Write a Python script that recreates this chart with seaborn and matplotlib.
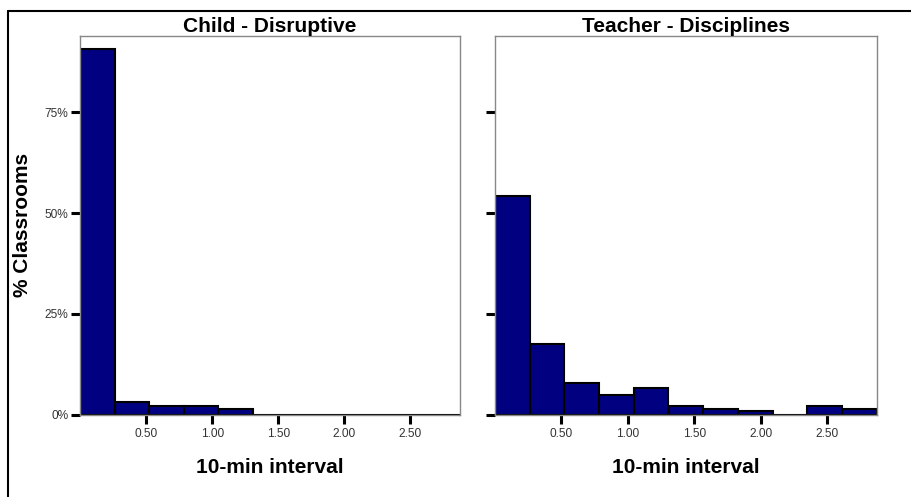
import numpy as np
import pandas as pd
import matplotlib
matplotlib.use("Agg")
import matplotlib.pyplot as plt
import seaborn as sns
from matplotlib.lines import Line2D
from matplotlib.ticker import FuncFormatter

# histogram bins (10-min interval), 11 equal bins from 0 to 2.875
bin_edges = list(np.linspace(0, 2.875, 12))
bin_mids = [(a + b) / 2 for a, b in zip(bin_edges[:-1], bin_edges[1:])]

# % of classrooms per bin
child_pct = [90.7, 3.1, 2.2, 2.2, 1.4, 0, 0, 0, 0, 0, 0]
teacher_pct = [54.3, 17.5, 7.8, 4.8, 6.6, 2.2, 1.4, 0.8, 0, 2.2, 1.4]

panels = ["Child - Disruptive", "Teacher - Disciplines"]
x_ticks = [0.5, 1.0, 1.5, 2.0, 2.5]
y_ticks = [0, 25, 50, 75]

df = pd.concat([
    pd.DataFrame({"interval": bin_mids, "pct": child_pct, "panel": panels[0]}),
    pd.DataFrame({"interval": bin_mids, "pct": teacher_pct, "panel": panels[1]}),
])

sns.set_style("white")
plt.rcParams["font.family"] = ["Liberation Sans", "DejaVu Sans"]
plt.rcParams["text.color"] = "black"
plt.rcParams["axes.labelcolor"] = "black"

fig = plt.figure(figsize=(9.11, 4.97), dpi=100)
ax1 = fig.add_axes([80 / 911, 82.3 / 497, 380 / 911, 379 / 497])
ax2 = fig.add_axes([495 / 911, 82.3 / 497, 381.7 / 911, 379 / 497])

for ax, name in zip([ax1, ax2], panels):
    sub = df[df["panel"] == name]
    sns.histplot(data=sub, x="interval", weights="pct", bins=bin_edges,
                 color="#000080", alpha=1, edgecolor="black", linewidth=1.5, ax=ax)
    ax.set_xlim(0, 2.875)
    ax.set_ylim(0, 94)
    ax.set_xticks(x_ticks)
    ax.xaxis.set_major_formatter(FuncFormatter(lambda v, p: f"{v:.2f}"))
    ax.set_yticks(y_ticks)
    ax.yaxis.set_major_formatter(FuncFormatter(lambda v, p: f"{v:.0f}%"))
    ax.tick_params(axis="both", direction="out", length=6.5, width=2.2,
                   color="black", labelsize=8.6, labelcolor="#333333", pad=2,
                   bottom=True, left=True)
    ax.tick_params(axis="x", pad=3)
    for s in ax.spines.values():
        s.set_color("#888888")
        s.set_linewidth(1)
        s.set_visible(True)
    ax.set_title(name, fontsize=15, fontweight="bold", pad=3, color="black")
    ax.set_xlabel("10-min interval", fontsize=15, fontweight="bold")
    ax.xaxis.set_label_coords(0.5, -(458 - 414.7) / 379)
    ax.set_ylabel("")

ax1.set_ylabel("% Classrooms", fontsize=15, fontweight="bold")
ax1.yaxis.set_label_coords(-(80 - 32) / 380, 0.5)
ax2.tick_params(axis="y", labelleft=False)

# outer frame (top and left edges)
fig.add_artist(Line2D([8 / 911, 8 / 911], [0, 1 - 10.5 / 497], color="black",
                      linewidth=1.5, transform=fig.transFigure))
fig.add_artist(Line2D([8 / 911, 1], [1 - 10.5 / 497, 1 - 10.5 / 497], color="black",
                      linewidth=1.5, transform=fig.transFigure))

fig.savefig("out.png", dpi=100)
